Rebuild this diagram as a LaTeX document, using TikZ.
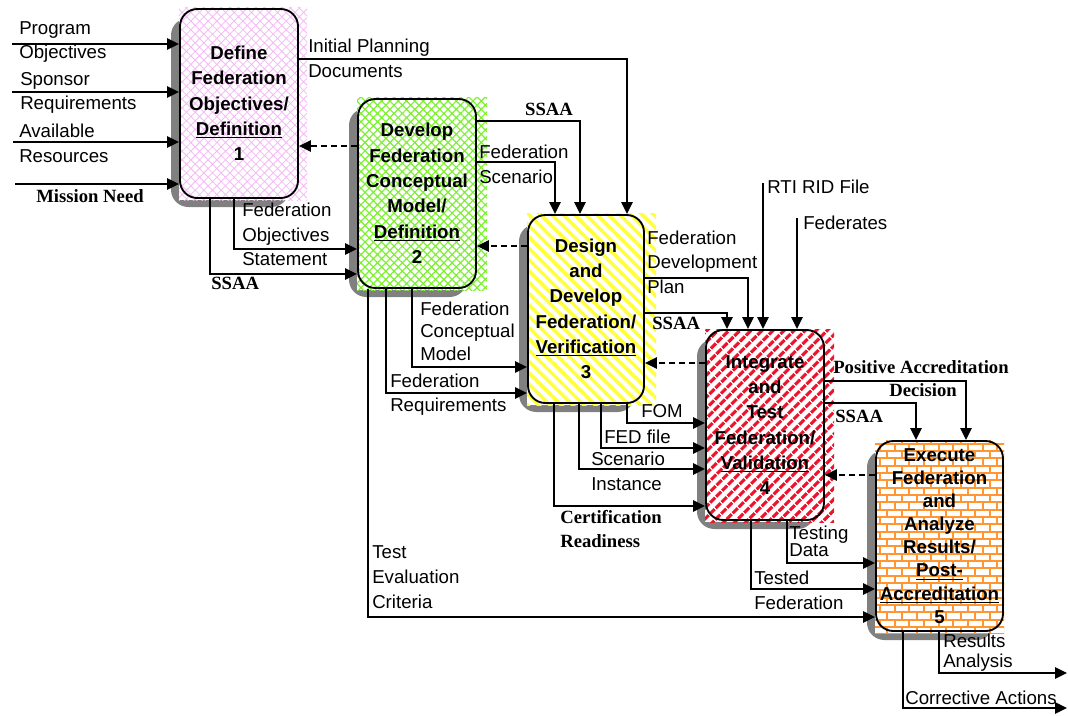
\documentclass[tikz,border=0pt]{standalone}
\usepackage{fontspec}
\setmainfont{Liberation Sans}
\newfontfamily\tnr{Liberation Serif}
\usetikzlibrary{arrows.meta,patterns,patterns.meta}

\definecolor{shadowgray}{RGB}{128,128,128}
\definecolor{hatchpink}{RGB}{245,185,245}
\definecolor{hatchgreen}{RGB}{125,240,50}
\definecolor{stripeyellow}{RGB}{255,255,60}
\definecolor{stripered}{RGB}{235,20,45}
\definecolor{brickorange}{RGB}{255,150,50}

% brick wall fill for the last activity
\pgfdeclarepatternformonly{brickwall}{\pgfpoint{-1pt}{-1pt}}{\pgfpoint{12pt}{12pt}}{\pgfpoint{11pt}{11pt}}{
  \pgfsetlinewidth{1.4pt}
  \pgfpathmoveto{\pgfpoint{0pt}{0pt}}\pgfpathlineto{\pgfpoint{11pt}{0pt}}
  \pgfpathmoveto{\pgfpoint{0pt}{5.5pt}}\pgfpathlineto{\pgfpoint{11pt}{5.5pt}}
  \pgfpathmoveto{\pgfpoint{0pt}{0pt}}\pgfpathlineto{\pgfpoint{0pt}{5.5pt}}
  \pgfpathmoveto{\pgfpoint{5.5pt}{5.5pt}}\pgfpathlineto{\pgfpoint{5.5pt}{11pt}}
  \pgfusepath{stroke}
}

\begin{document}
\begin{tikzpicture}[x=0.75pt,y=-0.75pt]
  \tikzstyle{proc}=[draw,rounded corners=13pt,line width=1.4pt,inner sep=0pt,align=center,
    font=\bfseries\fontsize{14}{19}\selectfont]
  \tikzstyle{flow}=[line width=1.5pt,-{Triangle[length=9pt,width=8.5pt]}]
  \tikzstyle{fbk}=[line width=1.4pt,dash pattern=on 4.5pt off 3pt,-{Triangle[length=9pt,width=8.5pt]}]
  \tikzstyle{lbl}=[anchor=west,inner sep=0pt,align=left,font=\fontsize{14}{18.5}\selectfont]
  \tikzstyle{tag}=[inner sep=0pt,align=left,font=\tnr\bfseries\fontsize{14}{18}\selectfont]
  \tikzstyle{shadowbox}=[fill=shadowgray,rounded corners=13pt]
  \tikzstyle{pinkhatch}=[preaction={fill=white},pattern={Hatch[angle=45,distance=4.6pt,line width=0.6pt]},pattern color=hatchpink]
  \tikzstyle{greenhatch}=[preaction={fill=white},pattern={Hatch[angle=45,distance=4.4pt,line width=0.9pt]},pattern color=hatchgreen]
  \tikzstyle{yellowstripe}=[preaction={fill=white},pattern={Lines[angle=-45,distance=6pt,line width=2.6pt]},pattern color=stripeyellow]
  \tikzstyle{redstripe}=[preaction={fill=white},pattern={Lines[angle=45,distance=6.4pt,line width=3pt]},pattern color=stripered]
  \tikzstyle{bricks}=[preaction={fill=white},pattern=brickwall,pattern color=brickorange]
  \useasboundingbox (0,0) rectangle (1068,715);

  % shadows and fills behind the activities
  \fill[shadowbox] (171,18) rectangle (289,207);
  \fill[pinkhatch] (179,7) rectangle (307,200);
  \fill[shadowbox] (349,108) rectangle (467,297);
  \fill[greenhatch] (357,97) rectangle (487,290);
  \fill[shadowbox] (519,224) rectangle (635,412);
  \fill[yellowstripe] (527,213) rectangle (656,405);
  \fill[shadowbox] (697,339) rectangle (815,529);
  \fill[redstripe] (705,329) rectangle (834,522);
  \fill[shadowbox] (867,450) rectangle (994,640);
  \fill[bricks] (875,440) rectangle (1004,633);

  % activities
  \node[proc,minimum width=88.5pt,minimum height=141.75pt] (p1) at (239,103.5)
    {Define\\Federation\\Objectives/\\\underline{Definition}\\1};
  \node[proc,minimum width=88.5pt,minimum height=141.75pt] (p2) at (417,193.5)
    {Develop\\Federation\\Conceptual\\Model/\\\underline{Definition}\\2};
  \node[proc,minimum width=87pt,minimum height=141pt] (p3) at (586,309)
    {Design\\and\\Develop\\Federation/\\\underline{Verification}\\3};
  \node[proc,minimum width=88.5pt,minimum height=142.5pt] (p4) at (765,425)
    {Integrate\\and\\Test\\Federation/\\\underline{Validation}\\4};
  \node[proc,minimum width=95.25pt,minimum height=142.5pt,font=\bfseries\fontsize{14}{17.3}\selectfont] (p5) at (939.5,536)
    {Execute\\Federation\\and\\Analyze\\Results/\\\underline{Post-}\\\underline{Accreditation}\\5};

  % free ends
  \coordinate (in1) at (12,44);
  \coordinate (in2) at (12,92);
  \coordinate (in3) at (13,142);
  \coordinate (in4) at (15,184);
  \coordinate (rti) at (763,183);
  \coordinate (feds) at (797,218);
  \coordinate (out1) at (1067,673);
  \coordinate (out2) at (1067,708);

  % inputs to activity 1
  \draw[flow] (in1) -- (in1 -| p1.west);
  \draw[flow] (in2) -- (in2 -| p1.west);
  \draw[flow] (in3) -- (in3 -| p1.west);
  \draw[flow] (in4) -- (in4 -| p1.west);
  % out of 1
  \draw[flow] (p1.east |- 0,59) -| (p3.north -| 627,0);
  \draw[flow] (p1.south -| 210,0) |- (p2.west |- 0,274);
  \draw[flow] (p1.south -| 234,0) |- (p2.west |- 0,249);
  \draw[fbk] (p2.west |- 0,146) -- (p1.east |- 0,146);
  % out of 2
  \draw[flow] (p2.east |- 0,121) -| (p3.north -| 580,0);
  \draw[flow] (p2.east |- 0,162) -| (p3.north -| 555,0);
  \draw[flow] (p2.south -| 412,0) |- (p3.west |- 0,367);
  \draw[flow] (p2.south -| 386,0) |- (p3.west |- 0,393);
  \draw[flow] (p2.south -| 368,0) |- (p5.west |- 0,617);
  \draw[fbk] (p3.west |- 0,246) -- (p2.east |- 0,246);
  % out of 3
  \draw[flow] (p3.east |- 0,278) -| (p4.north -| 748,0);
  \draw[flow] (p3.east |- 0,313) -| (p4.north -| 727,0);
  \draw[flow] (rti) -- (rti |- p4.north);
  \draw[flow] (feds) -- (feds |- p4.north);
  \draw[flow] (p3.south -| 627,0) |- (p4.west |- 0,423);
  \draw[flow] (p3.south -| 601,0) |- (p4.west |- 0,448);
  \draw[flow] (p3.south -| 579,0) |- (p4.west |- 0,469);
  \draw[flow] (p3.south -| 554,0) |- (p4.west |- 0,506);
  \draw[fbk] (p4.west |- 0,363) -- (p3.east |- 0,363);
  % out of 4
  \draw[flow] (p4.east |- 0,381) -| (p5.north -| 966,0);
  \draw[flow] (p4.east |- 0,403) -| (p5.north -| 916,0);
  \draw[flow] (p4.south -| 787,0) |- (p5.west |- 0,563);
  \draw[flow] (p4.south -| 751,0) |- (p5.west |- 0,589);
  \draw[fbk] (p5.west |- 0,475) -- (p4.east |- 0,475);
  % out of 5
  \draw[flow] (p5.south -| 939,0) |- (out1);
  \draw[flow] (p5.south -| 903,0) |- (out2);

  % labels
  \node[lbl] (lpo) at (19,42) {Program\\Objectives};
  \node[lbl] (lsr) at (20,93) {Sponsor\\Requirements};
  \node[lbl] (lar) at (19,143) {Available\\Resources};
  \node[tag] (lmn) at (90,196) {Mission Need};
  \node[lbl] (lip) at (308,58.5) {Initial Planning\\Documents};
  \node[lbl] (lfo) at (242,234.5) {Federation\\Objectives\\Statement};
  \node[tag,anchor=west] (ls1) at (211,283) {SSAA};
  \node[tag] (ls2) at (549,109) {SSAA};
  \node[lbl] (lfs) at (479,164) {Federation\\Scenario};
  \node[lbl] (lfc) at (420,331) {Federation\\[-1.5pt]Conceptual\\[-1.5pt]Model};
  \node[lbl] (lfr) at (390,394.5) {Federation\\Requirements};
  \node[lbl] (lte) at (372,577) {Test\\Evaluation\\Criteria};
  \node[lbl] (lfd) at (647,262) {Federation\\Development\\Plan};
  \node[tag,anchor=west] (ls3) at (652,323) {SSAA};
  \node[lbl] (lrti) at (767,187) {RTI RID File};
  \node[lbl] (lfed) at (803,223) {Federates};
  \node[lbl] (lfom) at (641,411) {FOM};
  \node[lbl] (lfile) at (604,437) {FED file};
  \node[lbl] (lsi) at (591,471) {Scenario\\Instance};
  \node[tag,anchor=west] (lcr) at (560,529) {Certification\\Readiness};
  \node[tag,anchor=west] (lpa) at (833,367) {Positive Accreditation};
  \node[tag] (lpd) at (923,390) {Decision};
  \node[tag,anchor=west] (ls4) at (835,416) {SSAA};
  \node[lbl] (ltd) at (789,541.5) {Testing\\[-5.75pt]Data};
  \node[lbl] (ltf) at (754,590.5) {Tested\\Federation};
  \node[lbl] (lra) at (943,653) {Results\\[-3.5pt]Analysis};
  \node[lbl] (lca) at (905,698) {Corrective Actions};
\end{tikzpicture}
\end{document}
